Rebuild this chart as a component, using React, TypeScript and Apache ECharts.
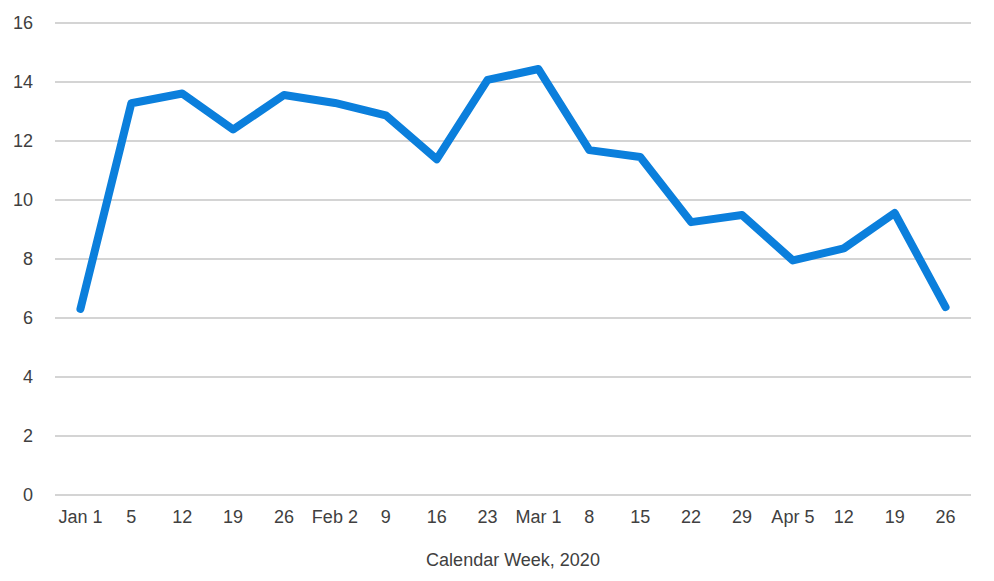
import React, { useEffect, useRef } from "react";
import * as echarts from "echarts";

const categories = ["Jan 1", "5", "12", "19", "26", "Feb 2", "9", "16", "23", "Mar 1", "8", "15", "22", "29", "Apr 5", "12", "19", "26"];
const values = [6.3, 13.27, 13.6, 12.38, 13.55, 13.28, 12.86, 11.37, 14.06, 14.43, 11.68, 11.45, 9.24, 9.48, 7.94, 8.35, 9.55, 6.36];
const xAxisName = "Calendar Week, 2020";

export default function App() {
  const ref = useRef<HTMLDivElement>(null);
  useEffect(() => {
    if (!ref.current) return;
    const chart = echarts.init(ref.current, undefined, { renderer: "svg" });
    const font = "'Liberation Sans', Arial, sans-serif";
    chart.setOption({
      animation: false,
      backgroundColor: "#ffffff",
      grid: { left: 55, right: 23, top: 22.7, bottom: 86.3, containLabel: false },
      xAxis: {
        type: "category",
        data: categories,
        boundaryGap: true,
        axisLine: { show: false },
        axisTick: { show: false },
        axisLabel: { color: "#404040", fontSize: 18, fontFamily: font, margin: 13, interval: 0 },
        name: xAxisName,
        nameLocation: "middle",
        nameGap: 56,
        nameTextStyle: { color: "#404040", fontSize: 18, fontFamily: font },
      },
      yAxis: {
        type: "value",
        min: 0,
        max: 16,
        interval: 2,
        axisLine: { show: false },
        axisTick: { show: false },
        axisLabel: { color: "#404040", fontSize: 18, fontFamily: font, margin: 22 },
        splitLine: { lineStyle: { color: "#c6c6c6", width: 1.5 } },
      },
      series: [
        {
          type: "line",
          data: values,
          symbol: "none",
          lineStyle: { color: "#0B7FDC", width: 8, cap: "round", join: "round" },
        },
      ],
    });
    return () => chart.dispose();
  }, []);
  return <div ref={ref} style={{ position: "fixed", left: 0, top: 0, width: 994, height: 581 }} />;
}
